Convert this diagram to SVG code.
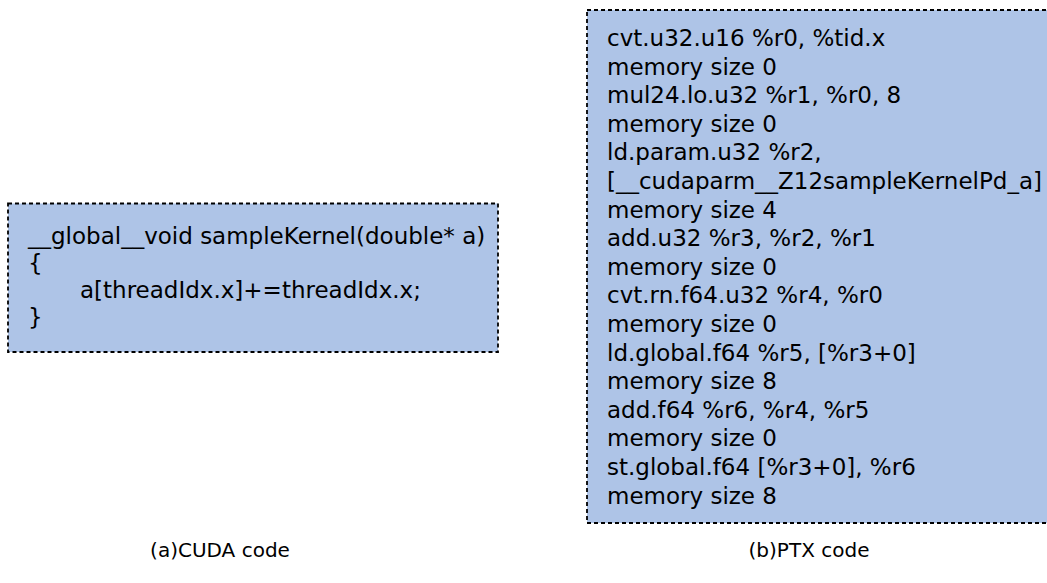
<svg xmlns="http://www.w3.org/2000/svg" width="1047" height="583" viewBox="0 0 1047 583">
<style>
.box{fill:#aec4e7;stroke:#000;stroke-width:1.8;stroke-dasharray:4 3}
.code{font-family:"DejaVu Sans",sans-serif;font-size:23px;fill:#000}
.cap{font-family:"DejaVu Sans",sans-serif;font-size:20px;fill:#000;text-anchor:middle}
</style>
<rect width="1047" height="583" fill="#fff"/>
<g id="cuda">
<rect class="box" x="8" y="203.5" width="490" height="148.5"/>
<text class="code" x="28" y="244">__global__void sampleKernel(double* a)</text>
<text class="code" x="28" y="271">{</text>
<text class="code" x="80" y="298">a[threadIdx.x]+=threadIdx.x;</text>
<text class="code" x="28" y="325">}</text>
</g>
<g id="ptx">
<rect class="box" x="587" y="10" width="470" height="513"/>
<text class="code" x="607">
<tspan x="607" y="46">cvt.u32.u16 %r0, %tid.x</tspan>
<tspan x="607" y="74.6">memory size 0</tspan>
<tspan x="607" y="103.2">mul24.lo.u32 %r1, %r0, 8</tspan>
<tspan x="607" y="131.8">memory size 0</tspan>
<tspan x="607" y="160.4">ld.param.u32 %r2,</tspan>
<tspan x="607" y="189">[__cudaparm__Z12sampleKernelPd_a]</tspan>
<tspan x="607" y="217.6">memory size 4</tspan>
<tspan x="607" y="246.2">add.u32 %r3, %r2, %r1</tspan>
<tspan x="607" y="274.8">memory size 0</tspan>
<tspan x="607" y="303.4">cvt.rn.f64.u32 %r4, %r0</tspan>
<tspan x="607" y="332">memory size 0</tspan>
<tspan x="607" y="360.6">ld.global.f64 %r5, [%r3+0]</tspan>
<tspan x="607" y="389.2">memory size 8</tspan>
<tspan x="607" y="417.8">add.f64 %r6, %r4, %r5</tspan>
<tspan x="607" y="446.4">memory size 0</tspan>
<tspan x="607" y="475">st.global.f64 [%r3+0], %r6</tspan>
<tspan x="607" y="503.6">memory size 8</tspan>
</text>
</g>
<g id="captions">
<text class="cap" x="220" y="557">(a)CUDA code</text>
<text class="cap" x="809" y="557">(b)PTX code</text>
</g>
</svg>
